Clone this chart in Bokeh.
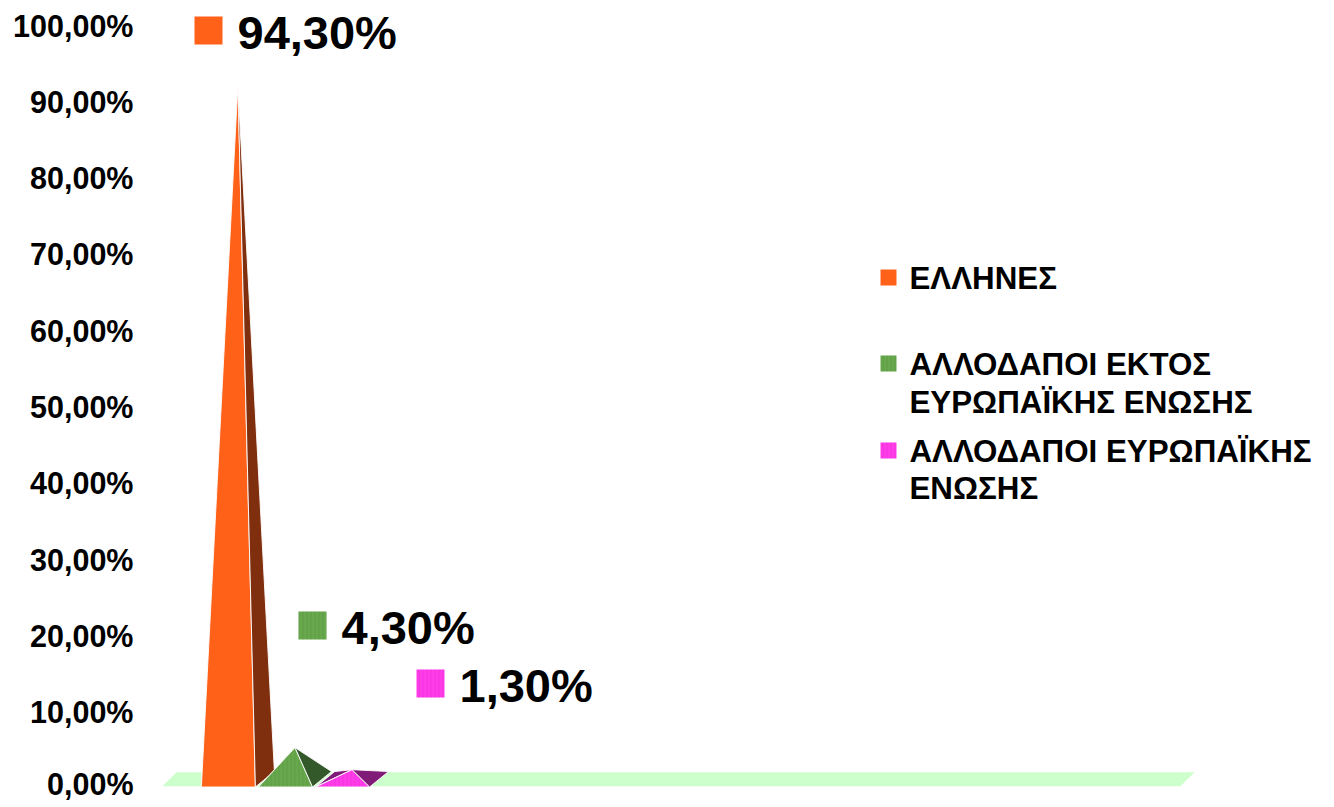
from bokeh.plotting import figure
from bokeh.models import FixedTicker, Range1d
from bokeh.core.properties import value
from bokeh.embed import file_html
from bokeh.resources import INLINE

# ---------------- data ----------------
categories = ["ΕΛΛΗΝΕΣ",
              "ΑΛΛΟΔΑΠΟΙ ΕΚΤΟΣ ΕΥΡΩΠΑΪΚΗΣ ΕΝΩΣΗΣ",
              "ΑΛΛΟΔΑΠΟΙ ΕΥΡΩΠΑΪΚΗΣ ΕΝΩΣΗΣ"]
values = [94.3, 4.3, 1.3]
value_labels = ["94,30%", "4,30%", "1,30%"]
legend_lines = [["ΕΛΛΗΝΕΣ"],
                ["ΑΛΛΟΔΑΠΟΙ ΕΚΤΟΣ", "ΕΥΡΩΠΑΪΚΗΣ ΕΝΩΣΗΣ"],
                ["ΑΛΛΟΔΑΠΟΙ ΕΥΡΩΠΑΪΚΗΣ", "ΕΝΩΣΗΣ"]]
tick_values = [0, 10, 20, 30, 40, 50, 60, 70, 80, 90, 100]
tick_labels = ["0,00%", "10,00%", "20,00%", "30,00%", "40,00%", "50,00%",
               "60,00%", "70,00%", "80,00%", "90,00%", "100,00%"]

# ---------------- styles ----------------
front_colors = ["#FF6119", "#68A84C", "#FF3DE8"]
side_colors = ["#7F2E0E", "#33592A", "#801C78"]
hatch_colors = [None, "#4E8A38", "#E020CC"]
FONT = value("Liberation Sans")

W, H = 1318, 800
LEFT = 140
PX_PER_UNIT = 7.63
X0, X1 = -1.539, 19.087
Y1 = 100 + 25 / PX_PER_UNIT
Y0 = -(H - 788) / PX_PER_UNIT

p = figure(width=W, height=H, output_backend="svg", toolbar_location=None,
           x_range=Range1d(X0, X1), y_range=Range1d(Y0, Y1),
           x_axis_location=None, min_border_left=LEFT, min_border_right=0,
           min_border_top=0, min_border_bottom=0)
p.outline_line_color = None
p.grid.visible = False
p.background_fill_color = "white"

ax = p.yaxis[0]
ax.ticker = FixedTicker(ticks=tick_values)
ax.major_label_overrides = {float(v): t for v, t in zip(tick_values, tick_labels)}
ax.axis_line_color = None
ax.major_tick_line_color = None
ax.minor_tick_line_color = None
ax.major_tick_out = 0
ax.major_label_standoff = 7
ax.major_label_text_font = "Liberation Sans"
ax.major_label_text_font_style = "bold"
ax.major_label_text_font_size = "30.5px"
ax.major_label_text_color = "black"

# helpers for layout (screen pixel -> data)
FRAME_W = W - LEFT
def sx(px):
    return X0 + (px - LEFT) * (X1 - X0) / FRAME_W
def sy(py):
    return Y1 - py * (Y1 - Y0) / H

def hatch(i):
    if hatch_colors[i] is None:
        return dict()
    return dict(hatch_pattern="vertical_line", hatch_color=hatch_colors[i],
                hatch_alpha=0.35, hatch_scale=4, hatch_weight=1)

# ---------------- floor ----------------
y_front, y_back = sy(786.5), sy(771)
floor_dx = sx(176) - sx(160)
fx0, fx1 = sx(160), sx(1180)
p.patch([fx0, fx1, fx1 + floor_dx, fx0 + floor_dx],
        [y_front, y_front, y_back, y_back],
        fill_color="#CCFFCC", line_color="white", line_width=1.5)

# ---------------- 3D pyramids ----------------
bw = sx(54) - sx(0)
depth = sx(19) - sx(0)
k = 0.965
y_mid = (y_front + y_back) / 2
for i, v in enumerate(values):
    xl, xr = i - bw / 2, i + bw / 2
    ax_x = i + depth / 2
    ax_y = y_mid + v * k
    # back-left face (visible only for very low pyramids)
    p.patch([xl, xl + depth, ax_x], [y_front, y_back, ax_y],
            fill_color=side_colors[i], line_color="white", line_width=1)
    # front face
    p.patch([xl, xr, ax_x], [y_front, y_front, ax_y],
            fill_color=front_colors[i], line_color="white", line_width=1,
            line_alpha=0.9, **hatch(i))
    # right face
    p.patch([xr, xr + depth, ax_x], [y_front, y_back, ax_y],
            fill_color=side_colors[i], line_color="white", line_width=1,
            line_alpha=0.9)

# ---------------- data labels ----------------
label_marker_px = [(208, 30), (312, 625), (430, 683)]
for i, lab in enumerate(value_labels):
    mx, my = label_marker_px[i]
    p.scatter([sx(mx)], [sy(my)], marker="square", size=28,
              fill_color=front_colors[i], line_color=None, **hatch(i))
    p.text([sx(mx + 29)], [sy(my + 2)], text=[lab], text_font=FONT,
           text_font_style="bold", text_font_size="47px",
           text_baseline="middle", text_align="left", text_color="black")

# ---------------- legend ----------------
legend_rows_px = [[277], [363, 401], [450, 487]]
for i, lines in enumerate(legend_lines):
    rows = legend_rows_px[i]
    p.scatter([sx(888)], [sy(rows[0])], marker="square", size=16,
              fill_color=front_colors[i], line_color=None, **hatch(i))
    for line, ry in zip(lines, rows):
        p.text([sx(909)], [sy(ry + 1)], text=[line], text_font=FONT,
               text_font_style="bold", text_font_size="31.3px",
               text_baseline="middle", text_align="left", text_color="black")

open("out.html", "w").write(file_html(p, INLINE))
